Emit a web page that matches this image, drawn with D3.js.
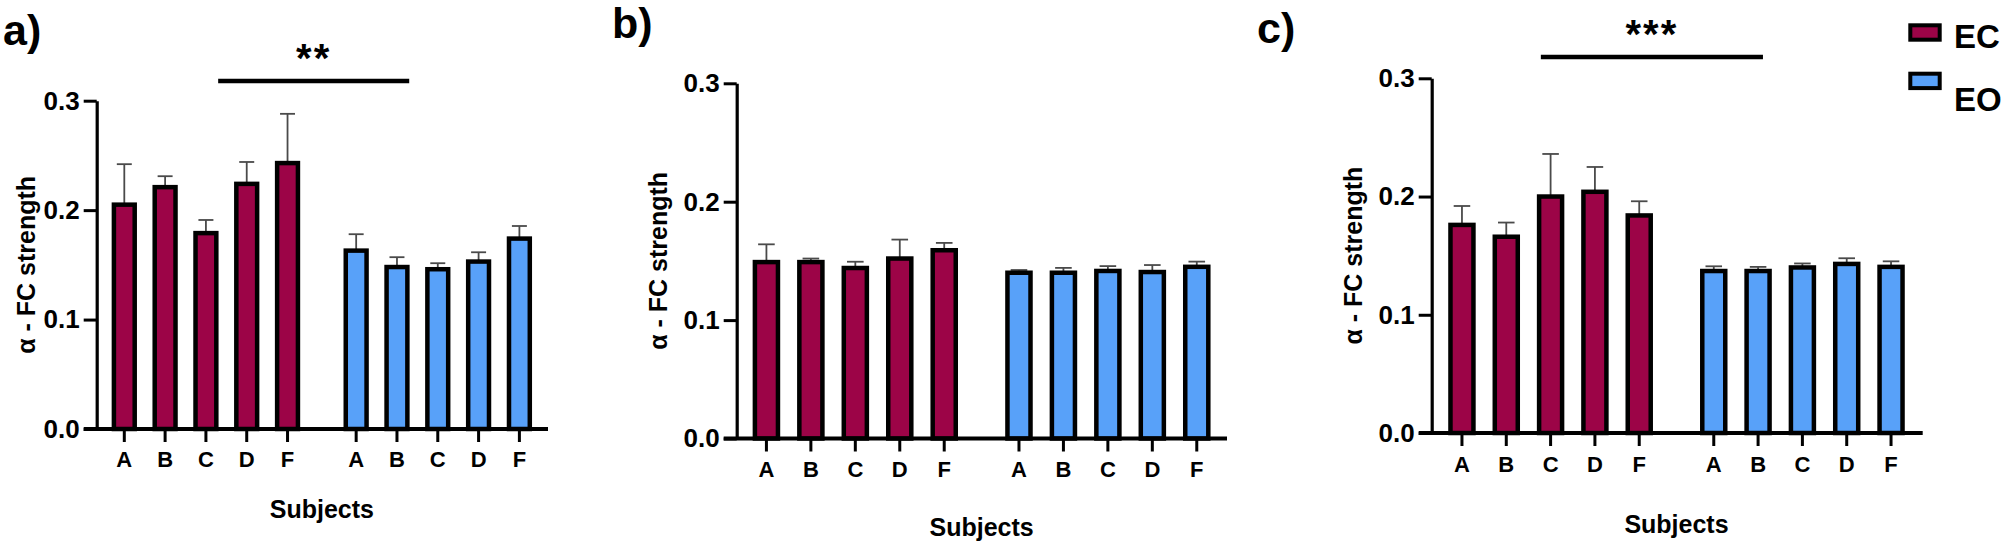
<!DOCTYPE html>
<html><head><meta charset="utf-8">
<script src="https://cdn.jsdelivr.net/npm/d3@7"></script>
<style>body{margin:0;background:#fff} svg{display:block}</style>
</head><body><svg id="chart" width="2005" height="548"></svg>
<script>
// ---------- data ----------
const subjects = ["A", "B", "C", "D", "F"];
const conditions = ["EC", "EO"];
const yTicks = [0, 0.1, 0.2, 0.3];
const panelLabels = ["a)", "b)", "c)"];
const yTitle = "α - FC strength";
const xTitle = "Subjects";
const sigLabels = ["**", "", "***"];

// panel a
const aEC    = [0.205, 0.221, 0.179, 0.224, 0.243];
const aECerr = [0.037, 0.010, 0.012, 0.020, 0.045];
const aEO    = [0.163, 0.148, 0.146, 0.153, 0.174];
const aEOerr = [0.015, 0.009, 0.0055, 0.0085, 0.0115];
// panel b
const bEC    = [0.149, 0.149, 0.144, 0.152, 0.159];
const bECerr = [0.015, 0.003, 0.0053, 0.016, 0.0062];
const bEO    = [0.140, 0.140, 0.1415, 0.1406, 0.145];
const bEOerr = [0.0023, 0.0041, 0.0041, 0.0059, 0.0044];
// panel c
const cEC    = [0.176, 0.166, 0.200, 0.204, 0.184];
const cECerr = [0.016, 0.012, 0.036, 0.021, 0.012];
const cEO    = [0.137, 0.137, 0.140, 0.143, 0.1405];
const cEOerr = [0.004, 0.0035, 0.0034, 0.0048, 0.0047];

const panelData = [
  {EC: aEC, ECerr: aECerr, EO: aEO, EOerr: aEOerr},
  {EC: bEC, ECerr: bECerr, EO: bEO, EOerr: bEOerr},
  {EC: cEC, ECerr: cECerr, EO: cEO, EOerr: cEOerr}
];

// ---------- layout / style ----------
const colors = {EC: "#9C0447", EO: "#58A1F9"};
const FONT = "'Liberation Sans', Arial, Helvetica, sans-serif";
const NARROW = "'Liberation Sans Narrow', 'Arial Narrow', 'Liberation Sans', Arial, sans-serif";
const layouts = [
  {lx: 3, ly: 45, axisX: 96.7, y0: 429, y1: 100.7, gx0: 103.9, gx1: 539.8, xEnd: 548,
   subjBase: 467, titleBase: 518, yTitleX: 35,
   sig: {from: ["EC", 2, 0.3], to: ["EO", 1, 0.3], y: 81, starsBase: 72}},
  {lx: 612, ly: 38, axisX: 736.7, y0: 438.5, y1: 83.3, gx0: 744.2, gx1: 1219, xEnd: 1227,
   subjBase: 477, titleBase: 536, yTitleX: 667, sig: null},
  {lx: 1257, ly: 43, axisX: 1431.7, y0: 433, y1: 78.3, gx0: 1439.8, gx1: 1913.2, xEnd: 1922.7,
   subjBase: 472, titleBase: 533, yTitleX: 1362,
   sig: {from: ["EC", 2, -0.22], to: ["EO", 1, 0.11], y: 57, starsBase: 48}}
];
const tickLen = 13;

const svg = d3.select("#chart");

layouts.forEach((L, pi) => {
  const D = panelData[pi];
  const g = svg.append("g");
  const y = d3.scaleLinear().domain([0, 0.3]).range([L.y0, L.y1]);
  const xg = d3.scaleBand().domain(conditions).range([L.gx0, L.gx1]).paddingInner(0.12);
  const xs = d3.scaleBand().domain(subjects).range([0, xg.bandwidth()]);
  const barW = xs.step() * 0.62 - 4.5;
  const cx = (c, s) => xg(c) + xs(s) + xs.bandwidth() / 2;

  // bars
  conditions.forEach(c => {
    const vals = D[c], errs = D[c + "err"];
    const items = subjects.map((s, i) => ({s, v: vals[i], e: errs[i]}));
    const eg = g.append("g").attr("stroke", "#4a4a4a").attr("stroke-width", 1.8);
    eg.selectAll("line.v").data(items).join("line")
      .attr("x1", d => cx(c, d.s)).attr("x2", d => cx(c, d.s))
      .attr("y1", d => y(d.v)).attr("y2", d => y(d.v + d.e));
    eg.selectAll("line.h").data(items).join("line")
      .attr("x1", d => cx(c, d.s) - barW * 0.36).attr("x2", d => cx(c, d.s) + barW * 0.36)
      .attr("y1", d => y(d.v + d.e)).attr("y2", d => y(d.v + d.e));
    g.append("g").selectAll("rect").data(items).join("rect")
      .attr("x", d => cx(c, d.s) - barW / 2).attr("width", barW)
      .attr("y", d => y(d.v)).attr("height", d => y(0) - y(d.v))
      .attr("fill", colors[c]).attr("stroke", "#000").attr("stroke-width", 4.5);
  });

  // y axis
  const ya = g.append("g").attr("transform", `translate(${L.axisX},0)`)
    .call(d3.axisLeft(y).tickValues(yTicks).tickFormat(d3.format(".1f"))
      .tickSize(tickLen).tickSizeOuter(0).tickPadding(4));
  ya.select(".domain").attr("stroke", "#000").attr("stroke-width", 3.2);
  ya.selectAll(".tick line").attr("stroke", "#000").attr("stroke-width", 3);
  ya.selectAll(".tick text").attr("font-family", NARROW).attr("font-weight", "bold")
    .attr("font-size", 26).attr("fill", "#000");

  // x axis (one per group, baseline drawn separately)
  conditions.forEach(c => {
    const xa = g.append("g").attr("transform", `translate(${xg(c)},${y(0)})`)
      .call(d3.axisBottom(xs).tickSize(tickLen).tickSizeOuter(0).tickPadding(9));
    xa.select(".domain").remove();
    xa.selectAll(".tick line").attr("stroke", "#000").attr("stroke-width", 3);
    xa.selectAll(".tick text").attr("font-family", FONT).attr("font-weight", "bold")
      .attr("font-size", 22).attr("fill", "#000").attr("dy", null)
      .attr("y", L.subjBase - y(0));
  });
  g.append("line").attr("x1", L.axisX - tickLen).attr("x2", L.xEnd)
    .attr("y1", y(0)).attr("y2", y(0)).attr("stroke", "#000").attr("stroke-width", 4.2);

  // titles
  g.append("text").attr("x", (L.gx0 + L.gx1) / 2).attr("y", L.titleBase)
    .attr("text-anchor", "middle").attr("font-family", FONT).attr("font-weight", "bold")
    .attr("font-size", 25).text(xTitle);
  g.append("text").attr("transform", `translate(${L.yTitleX},${(L.y0 + L.y1) / 2}) rotate(-90)`)
    .attr("text-anchor", "middle").attr("font-family", FONT).attr("font-weight", "bold")
    .attr("font-size", 25).text(yTitle);
  g.append("text").attr("x", L.lx).attr("y", L.ly).attr("font-family", FONT)
    .attr("font-weight", "bold").attr("font-size", 43).text(panelLabels[pi]);

  // significance
  if (L.sig) {
    const s = L.sig;
    const x1 = cx(s.from[0], subjects[s.from[1]]) + s.from[2] * xs.step();
    const x2 = cx(s.to[0], subjects[s.to[1]]) + s.to[2] * xs.step();
    g.append("line").attr("x1", x1).attr("x2", x2).attr("y1", s.y).attr("y2", s.y)
      .attr("stroke", "#000").attr("stroke-width", 4.5);
    g.append("text").attr("x", (x1 + x2) / 2).attr("y", s.starsBase)
      .attr("text-anchor", "middle").attr("font-family", FONT).attr("font-weight", "bold")
      .attr("font-size", 40).attr("letter-spacing", 2).text(sigLabels[pi]);
  }
});

// legend
const legend = svg.append("g");
const legendItems = [{k: "EC", sy: 25.3, tb: 48}, {k: "EO", sy: 73.7, tb: 111}];
legend.selectAll("rect").data(legendItems).join("rect")
  .attr("x", 1910.3).attr("y", d => d.sy).attr("width", 29.4).attr("height", 14.4)
  .attr("fill", d => colors[d.k]).attr("stroke", "#000").attr("stroke-width", 4);
legend.selectAll("text").data(legendItems).join("text")
  .attr("x", 1954).attr("y", d => d.tb).attr("font-family", FONT).attr("font-weight", "bold")
  .attr("font-size", 33).text(d => d.k);
</script>
</body></html>
